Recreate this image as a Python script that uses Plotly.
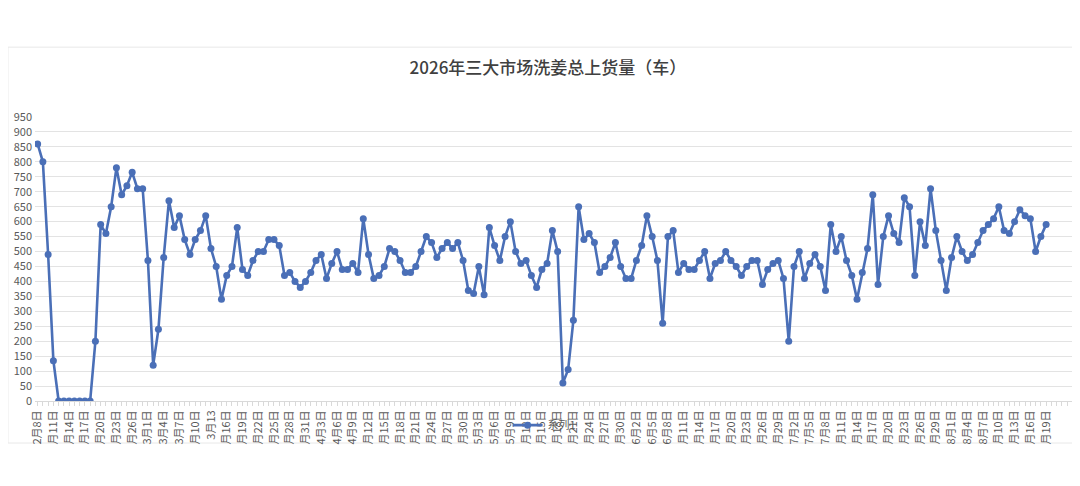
import pandas as pd
import plotly.graph_objects as go

# daily counts, 2026-02-08 .. 2026-08-19
values = [860, 800, 490, 135, 0, 0, 0, 0, 0, 0, 0,
          200, 590, 560, 650, 780, 690, 720, 765, 710, 710,
          470, 120, 240, 480, 670, 580, 620, 540, 490, 540,
          570, 620, 510, 450, 340, 420, 450, 580, 440, 420,
          470, 500, 500, 540, 540, 520, 420, 430, 400,
          380, 400, 430, 470, 490, 410, 460, 500, 440, 440,
          460, 430, 610, 490, 410, 420, 450, 510, 500, 470,
          430, 430, 450, 500, 550, 530, 480, 510, 530, 510,
          530, 470, 370, 360, 450, 355, 580, 520, 470, 550,
          600, 500, 460, 470, 420, 380, 440, 460, 570, 500,
          60, 105, 270, 650, 540, 560, 530, 430, 450, 480,
          530, 450, 410, 410, 470, 520, 620, 550, 470, 260,
          550, 570, 430, 460, 440, 440, 470, 500, 410, 460,
          470, 500, 470, 450, 420, 450, 470, 470, 390, 440,
          460, 470, 410, 200, 450, 500, 410, 460, 490, 450,
          370, 590, 500, 550, 470, 420, 340, 430, 510, 690,
          390, 550, 620, 560, 530, 680, 650, 420, 600, 520,
          710, 570, 470, 370, 480, 550, 500, 470, 490, 530,
          570, 590, 610, 650, 570, 560, 600, 640, 620, 610,
          500, 550, 590]

dates = pd.date_range("2026-02-08", periods=len(values), freq="D")
n_categories = 198  # axis runs a few empty days past the last value

# tick labels as they appear (truncated) on the chart, every third day
tick_labels = ["2月8日", "月11日", "月14日", "月17日", "月20日", "月23日", "月26日",
               "3月1日", "3月4日", "3月7日", "月10日", "3月13", "月16日", "月19日",
               "月22日", "月25日", "月28日", "月31日", "4月3日", "4月6日", "4月9日",
               "月12日", "月15日", "月18日", "月21日", "月24日", "月27日", "月30日",
               "5月3日", "5月6日", "5月9日", "月12日", "月15日", "月18日", "月21日",
               "月24日", "月27日", "月30日", "6月2日", "6月5日", "6月8日", "月11日",
               "月14日", "月17日", "月20日", "月23日", "月26日", "月29日", "7月2日",
               "7月5日", "7月8日", "月11日", "月14日", "月17日", "月20日", "月23日",
               "月26日", "月29日", "8月1日", "8月4日", "8月7日", "月10日", "月13日",
               "月16日", "月19日"]

x = list(range(len(values)))
tick_pos = list(range(0, len(values), 3))

font = "Noto Sans CJK SC, Noto Sans, sans-serif"
blue = "#4a6fb7"
gray = "#595959"

fig = go.Figure(go.Scatter(
    x=x, y=values, mode="lines+markers", name="系列1",
    line=dict(color=blue, width=2.6),
    marker=dict(color=blue, size=7),
    customdata=dates.strftime("%m-%d"),
    hovertemplate="%{customdata}: %{y}<extra></extra>"))

# the page puts the figure 8px in from the top-left, so margins allow for that
fig.update_layout(
    width=1080, height=486,
    margin=dict(l=27, r=13, t=109, b=93, autoexpand=False),
    paper_bgcolor="white", plot_bgcolor="white",
    font=dict(family=font, color=gray, size=11),
    title=dict(text="2026年三大市场洗姜总上货量（车）", x=0.5, xanchor="center",
               y=1 - 60 / 486, yanchor="middle",
               font=dict(size=17, color="#404040", family=font, weight=500)),
    showlegend=True,
    legend=dict(x=0.49, xanchor="center", y=-0.085, yanchor="middle",
                orientation="h", bgcolor="rgba(0,0,0,0)",
                font=dict(size=11, color=gray)),
    xaxis=dict(range=[-0.5, n_categories - 0.5], tickmode="array",
               tickvals=tick_pos, ticktext=tick_labels, tickangle=-90,
               tickfont=dict(size=11, color=gray), showgrid=False,
               zeroline=False, showline=True, linecolor="#d9d9d9",
               ticks="outside", ticklen=4, tickcolor="#d9d9d9", automargin=False,
               minor=dict(tickmode="linear", tick0=0, dtick=1, ticks="outside",
                          ticklen=4, tickcolor="#d9d9d9")),
    yaxis=dict(range=[0, 950], dtick=50, tick0=0, showgrid=True,
               gridcolor="#e3e3e3", gridwidth=1, zeroline=False, automargin=False,
               tickfont=dict(size=11, color=gray), ticks="", ticklabelstandoff=2),
)

# faint chart-area border
fig.add_shape(type="rect", xref="paper", yref="paper",
              x0=-0.026, x1=1.003, y0=-0.148, y1=1.246,
              line=dict(color="#e8e8e8", width=1), layer="below")

fig.write_html("out.html")
